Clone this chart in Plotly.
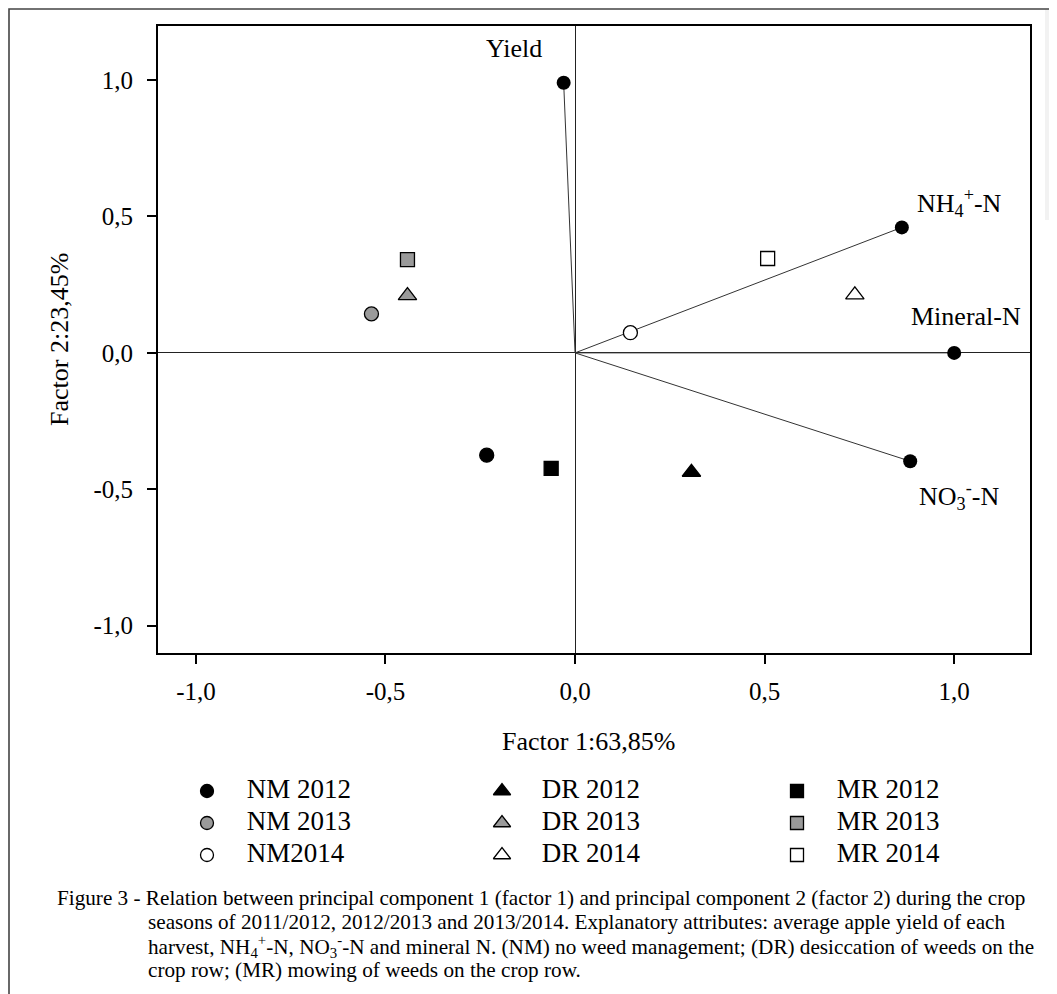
import plotly.graph_objects as go

# page has an 8px body margin: figure is sized/positioned to compensate
OFF = 8
W, H = 1057 - OFF, 994 - OFF
FONT = "Liberation Serif"

# ---- data ----
var_names = ["Yield", "NH<sub>4</sub><sup>+</sup>-N", "Mineral-N", "NO<sub>3</sub><sup>-</sup>-N"]
var_x = [-0.03, 0.862, 1.0, 0.884]
var_y = [0.99, 0.46, 0.0, -0.397]
# label positions (data coords)
var_lab_x = [-0.16, 1.013, 1.03, 1.013]
var_lab_y = [1.114, 0.548, 0.132, -0.526]

series_names = ["NM 2012", "NM 2013", "NM2014",
                "DR 2012", "DR 2013", "DR 2014",
                "MR 2012", "MR 2013", "MR 2014"]
series_x = [-0.233, -0.537, 0.146,
            0.307, -0.442, 0.738,
            -0.063, -0.442, 0.508]
series_y = [-0.375, 0.143, 0.074,
            -0.4375, 0.21, 0.213,
            -0.423, 0.342, 0.346]
series_symbol = ["circle"] * 3 + ["triangle-up"] * 3 + ["square"] * 3
series_size = [14] * 3 + [16] * 3 + [14] * 3
series_fill = ["black", "#9a9a9a", "white"] * 3
legend_col = [0, 0, 0, 1, 1, 1, 2, 2, 2]
legend_row = [0, 1, 2, 0, 1, 2, 0, 1, 2]

tick_vals = [-1.0, -0.5, 0.0, 0.5, 1.0]
tick_text = ["-1,0", "-0,5", "0,0", "0,5", "1,0"]

caption_lines = [
    "Figure 3 - Relation between principal component 1 (factor 1) and principal component 2 (factor 2) during the crop",
    "seasons of 2011/2012, 2012/2013 and 2013/2014. Explanatory attributes: average apple yield of each",
    "harvest, NH<sub>4</sub><sup>+</sup>-N, NO<sub>3</sub><sup>-</sup>-N and mineral N. (NM) no weed management; (DR) desiccation of weeds on the",
    "crop row; (MR) mowing of weeds on the crop row.",
]


def px(x):
    return (x - OFF) / W


def py(y):
    return 1 - (y - OFF) / H


fig = go.Figure()

# vectors from origin
vx, vy = [], []
for x, y in zip(var_x, var_y):
    vx += [0, x, None]
    vy += [0, y, None]
fig.add_trace(go.Scatter(x=vx, y=vy, mode="lines",
                         line=dict(color="#333333", width=1), hoverinfo="skip",
                         showlegend=False))
fig.add_trace(go.Scatter(x=var_x, y=var_y, mode="markers",
                         marker=dict(symbol="circle", size=14, color="black"),
                         showlegend=False))

# treatment points
for i, n in enumerate(series_names):
    fig.add_trace(go.Scatter(
        x=[series_x[i]], y=[series_y[i]], mode="markers", name=n,
        marker=dict(symbol=series_symbol[i], size=series_size[i], color=series_fill[i],
                    line=dict(color="black", width=1.3)),
        showlegend=False))

# manual legend on hidden axes (columns/rows as positions)
for i, n in enumerate(series_names):
    fig.add_trace(go.Scatter(
        x=[legend_col[i]], y=[legend_row[i]], mode="markers", xaxis="x2", yaxis="y2",
        marker=dict(symbol=series_symbol[i], size=series_size[i] - 1, color=series_fill[i],
                    line=dict(color="black", width=1.3)),
        showlegend=False, hoverinfo="skip"))
    fig.add_trace(go.Scatter(
        x=[legend_col[i] + 0.135], y=[legend_row[i]], mode="text", text=[n],
        textposition="middle right", xaxis="x2", yaxis="y2",
        textfont=dict(family=FONT, size=27, color="black"),
        showlegend=False, hoverinfo="skip"))

# variable labels
for n, x, y in zip(var_names, var_lab_x, var_lab_y):
    fig.add_annotation(x=x, y=y, text=n, showarrow=False, xref="x", yref="y",
                       xanchor="center", yanchor="middle",
                       font=dict(family=FONT, size=26, color="black"))

# axis titles
fig.add_annotation(x=px(588), y=py(741), xref="paper", yref="paper",
                   xanchor="center", yanchor="middle",
                   text="Factor 1:63,85%", showarrow=False,
                   font=dict(family=FONT, size=26, color="black"))
fig.add_annotation(x=px(60), y=py(340), xref="paper", yref="paper",
                   xanchor="center", yanchor="middle",
                   text="Factor 2:23,45%", showarrow=False, textangle=-90,
                   font=dict(family=FONT, size=26, color="black"))

# caption
cap_x = [55, 146, 146, 146]
cap_y = [898, 922, 946, 970]
for t, cx, cy in zip(caption_lines, cap_x, cap_y):
    fig.add_annotation(x=px(cx), y=py(cy), xref="paper", yref="paper",
                       text=t, showarrow=False, xanchor="left", yanchor="middle",
                       font=dict(family=FONT, size=21.2, color="black"))

# outer frame and right strip
fig.add_shape(type="rect", xref="paper", yref="paper",
              x0=px(1045), x1=1.0, y0=py(220), y1=py(9),
              fillcolor="#f2f2f2", line=dict(width=0), layer="below")
fig.add_shape(type="rect", xref="paper", yref="paper",
              x0=1 / W, x1=1.02, y0=-0.02, y1=1 - 1 / H,
              line=dict(color="#444444", width=1.6))

axis_common = dict(range=[-1.1, 1.2], tickvals=tick_vals, ticktext=tick_text,
                   showgrid=False, zeroline=True, zerolinecolor="#222222",
                   zerolinewidth=1, showline=True, linecolor="black", linewidth=2,
                   mirror=True, ticks="outside", ticklen=9, tickwidth=2,
                   tickcolor="black",
                   tickfont=dict(family=FONT, size=25, color="black"))

# legend axes geometry (in figure pixels)
leg_top = H * 0.3
col0_px, col_step = 207 - OFF, 295
row0_px, row_step = 791 - OFF, 32
row_top_px = H - leg_top
y_top_val = -(row0_px - row_top_px) / row_step
y_bot_val = y_top_val + leg_top / row_step

fig.update_layout(
    width=W, height=H,
    margin=dict(l=0, r=0, t=0, b=0),
    paper_bgcolor="white", plot_bgcolor="white",
    showlegend=False,
    xaxis=dict(domain=[px(158), px(1030)], ticklabelstandoff=6, **axis_common),
    yaxis=dict(domain=[py(653), py(25.5)], ticklabelstandoff=9, **axis_common),
    xaxis2=dict(domain=[0, 1], range=[-col0_px / col_step, (W - col0_px) / col_step],
                visible=False, anchor="y2"),
    yaxis2=dict(domain=[0, 0.3], range=[y_bot_val, y_top_val], visible=False,
                anchor="x2"),
)

fig.write_html("out.html")
